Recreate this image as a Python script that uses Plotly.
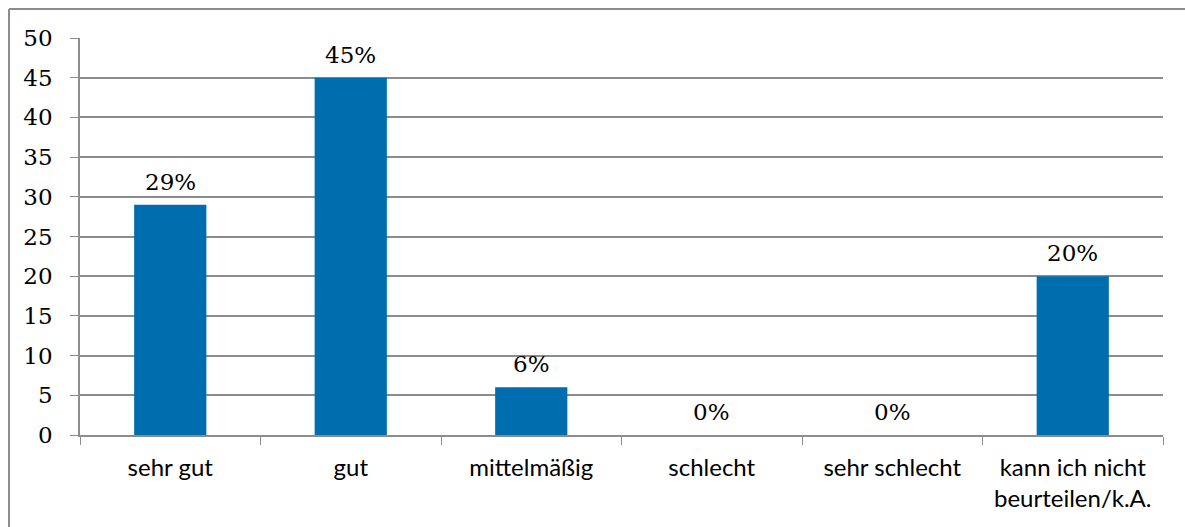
import plotly.graph_objects as go

categories = ["sehr gut", "gut", "mittelmäßig", "schlecht", "sehr schlecht",
              "kann ich nicht<br>beurteilen/k.A."]
values = [29, 45, 6, 0, 0, 20]
labels = ["29%", "45%", "6%", "0%", "0%", "20%"]

W, H = 1185, 527
L, R, T, B = 80, 22, 38, 92
grey = "#8c8c8c"

fig = go.Figure(go.Bar(
    x=categories, y=values,
    marker=dict(color="#006eae", line=dict(width=0)),
))

for c, v, t in zip(categories, values, labels):
    fig.add_annotation(x=c, y=v, text=t, showarrow=False, yanchor="middle", yshift=23,
                       font=dict(family="DejaVu Serif", size=23, color="black"))

# frame around the chart (only top/left edges visible in the picture)
pw, ph = W - L - R, H - T - B
fx0 = (9 - L) / pw
fx1 = (W - L) / pw
fy0 = (H - B - 9) / ph
fy1 = -B / ph
fig.add_shape(type="line", xref="paper", yref="paper", x0=fx0, x1=fx1, y0=fy0, y1=fy0,
              line=dict(color=grey, width=2))
fig.add_shape(type="line", xref="paper", yref="paper", x0=fx0, x1=fx0, y0=fy0, y1=fy1,
              line=dict(color=grey, width=2))

fig.update_layout(
    width=W, height=H,
    margin=dict(l=L, r=R, t=T, b=B, autoexpand=False),
    plot_bgcolor="white", paper_bgcolor="white",
    bargap=0.6, showlegend=False,
)
fig.update_yaxes(
    range=[0, 50], dtick=5, showgrid=True, gridcolor=grey, gridwidth=1.5,
    showline=True, linecolor=grey, linewidth=1.5,
    ticks="outside", ticklen=8, tickcolor=grey, ticklabelstandoff=13,
    tickfont=dict(family="DejaVu Serif", size=23, color="black"),
    zeroline=False, automargin=False,
)
fig.update_xaxes(
    showline=True, linecolor=grey, linewidth=1.5,
    ticks="outside", ticklen=8, tickcolor=grey, tickson="boundaries",
    ticklabelstandoff=10, automargin=False,
    tickfont=dict(family="Lato", size=24, color="black"),
    mirror=False,
)

fig.write_html("out.html", config={"displayModeBar": False},
               post_script="document.body.style.margin='0';document.body.style.overflow='hidden';")
